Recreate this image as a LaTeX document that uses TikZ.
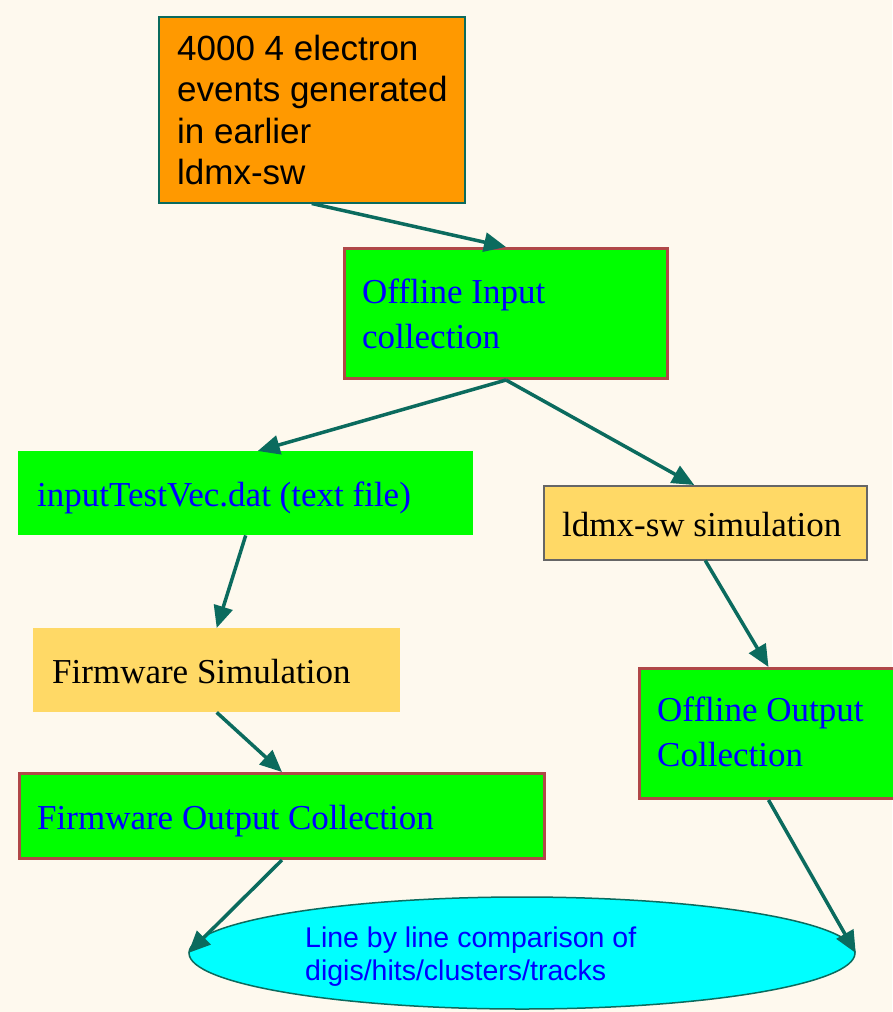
\documentclass[tikz,border=0pt]{standalone}
\usepackage{fontspec}
\setmainfont{Liberation Serif}
\newfontfamily\arialf{Liberation Sans}
\usetikzlibrary{arrows.meta,shapes.geometric}
\definecolor{bgc}{HTML}{FEF9EE}
\definecolor{teal}{HTML}{0B6B5E}
\definecolor{orangef}{HTML}{FF9900}
\definecolor{greenf}{HTML}{00FF00}
\definecolor{brownb}{HTML}{B04848}
\definecolor{yellowf}{HTML}{FFD966}
\definecolor{grayb}{HTML}{666666}
\definecolor{cyanf}{HTML}{00FFFF}
\definecolor{bluet}{HTML}{0000FF}
\tikzset{
  boxbase/.style={rectangle, anchor=north west, inner sep=0pt},
  orangebox/.style={boxbase, fill=orangef, draw=teal, line width=1.5pt},
  greenbox/.style={boxbase, fill=greenf, draw=brownb, line width=3pt},
  greenplain/.style={boxbase, fill=greenf},
  yellowbox/.style={boxbase, fill=yellowf, draw=grayb, line width=1.5pt},
  yellowplain/.style={boxbase, fill=yellowf},
  sanstxt/.style={anchor=north west, inner sep=0pt, align=left, font=\arialf\fontsize{35}{41.5}\selectfont},
  serifblue/.style={anchor=north west, inner sep=0pt, align=left, text=bluet, font=\fontsize{35}{45}\selectfont},
  serifblack/.style={anchor=north west, inner sep=0pt, align=left, font=\fontsize{35}{45}\selectfont},
  elltxt/.style={anchor=north west, inner sep=0pt, align=left, text=bluet, font=\arialf\fontsize{28.5}{33}\selectfont},
  arr/.style={draw=teal, line width=3.5pt, -{Triangle[length=22pt,width=19pt]}}
}
\begin{document}
\begin{tikzpicture}[x=1pt,y=-1pt]
\fill[bgc] (0,0) rectangle (892,1012);
\useasboundingbox (0,0) rectangle (892,1012);
% boxes
\node[orangebox, minimum width=306pt, minimum height=186pt] (orange) at (158,16) {};
\node[greenbox, minimum width=323pt, minimum height=130pt] (offin) at (343,247) {};
\node[greenplain, minimum width=455pt, minimum height=84pt] (inv) at (18,451) {};
\node[yellowbox, minimum width=323pt, minimum height=74pt] (ldmx) at (543,485) {};
\node[yellowplain, minimum width=367pt, minimum height=84pt] (fsim) at (33,628) {};
\node[greenbox, minimum width=258pt, minimum height=130pt] (offout) at (638,667) {};
\node[greenbox, minimum width=525pt, minimum height=85pt] (fout) at (18,772) {};
\node[ellipse, fill=cyanf, draw=teal, line width=1.5pt, minimum width=666pt, minimum height=112pt, inner sep=0pt] (ell) at (522,953) {};
% texts
\node[sanstxt] (orangetxt) at (177,34.5) {4000 4 electron\\events generated\\in earlier\\ldmx-sw};
\node[serifblue] (offintxt) at (362,279) {Offline Input\\collection};
\node[serifblue] (invtxt) at (37,482) {inputTestVec.dat (text file)};
\node[serifblack] (ldmxtxt) at (562,512) {ldmx-sw simulation};
\node[serifblack] (fsimtxt) at (52,659) {Firmware Simulation};
\node[serifblue] (offouttxt) at (657,697) {Offline Output\\Collection};
\node[serifblue] (fouttxt) at (37,805) {Firmware Output Collection};
\node[elltxt] (elltext) at (305,927) {Line by line comparison of\\digis/hits/clusters/tracks};
% arrows
\draw[arr] (orange.south) -- (offin.north);
\draw[arr] (offin.south) -- ([xshift=12pt]inv.north);
\draw[arr] (offin.south) -- ([xshift=-11pt]ldmx.north);
\draw[arr] (inv.south) -- (fsim.north);
\draw[arr] (fsim.south) -- (fout.north);
\draw[arr] (ldmx.south) -- (offout.north);
\draw[arr] (fout.south) -- (ell.west);
\draw[arr] (offout.south) -- (ell.east);
\end{tikzpicture}
\end{document}
